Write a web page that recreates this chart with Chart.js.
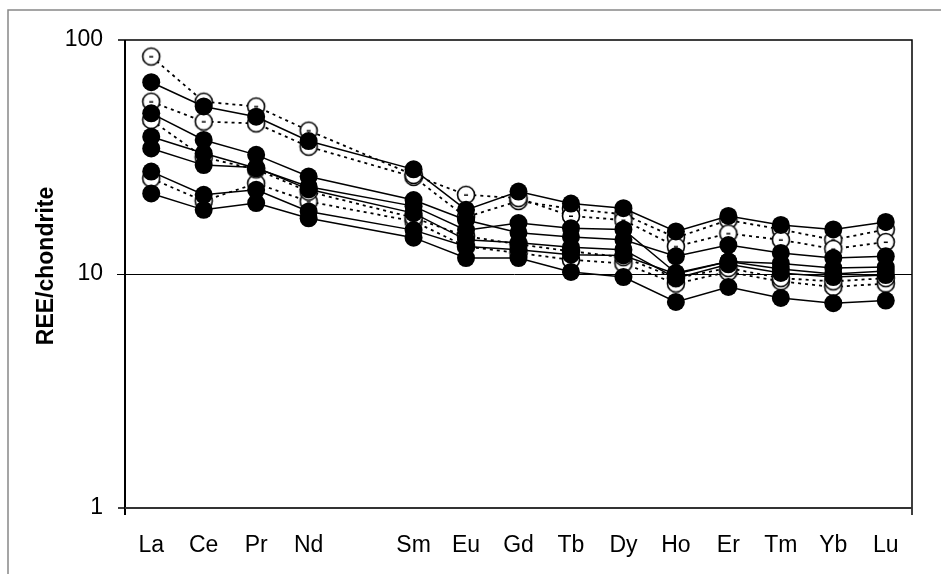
<!DOCTYPE html>
<html>
<head>
<meta charset="utf-8">
<script src="https://cdn.jsdelivr.net/npm/chart.js@4/dist/chart.umd.min.js"></script>
<style>
  html, body { margin: 0; padding: 0; background: #fff; }
  #wrap { width: 941px; height: 574px; position: relative; }
</style>
</head>
<body>
<div id="wrap"><canvas id="c" width="941" height="574"></canvas></div>
<script>
// ---- data ----
const categories = ['La', 'Ce', 'Pr', 'Nd', '', 'Sm', 'Eu', 'Gd', 'Tb', 'Dy', 'Ho', 'Er', 'Tm', 'Yb', 'Lu'];
const yTickValues = [1, 10, 100];
const yTitle = 'REE/chondrite';

// filled symbols, solid lines
const filled1 = [66, 52, 47, 37, null, 28, 18.8, 22.5, 20, 19.1, 15.2, 17.7, 16.2, 15.5, 16.7];
const filled2 = [48.6, 37.4, 32.3, 26.1, null, 20.7, 17.0, 15.0, 14.4, 14.0, 11.9, 13.3, 12.3, 11.7, 11.9];
const filled3 = [38.6, 32.8, 28.3, 23.6, null, 19.5, 15.4, 16.5, 15.7, 15.5, 10.1, 11.3, 11.1, 10.6, 10.7];
const filled4 = [34.4, 29.2, 28.5, 23.0, null, 18.2, 14.0, 13.6, 13.0, 12.7, 9.6, 11.0, 10.1, 9.7, 9.9];
const filled5 = [27.4, 21.8, 22.9, 18.5, null, 15.4, 13.1, 12.7, 12.1, 12.0, 10.0, 11.3, 10.5, 10.0, 10.3];
const filled6 = [22.1, 18.8, 20.1, 17.3, null, 14.3, 11.7, 11.7, 10.2, 9.7, 7.6, 8.8, 7.9, 7.5, 7.7];

// open symbols, dotted lines
const open1 = [85, 54.5, 52, 41, null, 26.5, 21.8, 21.1, 17.7, 17.0, 13.1, 14.9, 14.0, 12.8, 13.7];
const open2 = [54.5, 44.8, 44, 35, null, 26, 17.5, 20.5, 19.0, 18.0, 14.3, 17.0, 15.5, 14.0, 15.5];
const open3 = [45.5, 31.5, 28.0, 22.5, null, 17.4, 14.5, 13.4, 12.5, 11.8, 9.6, 10.6, 9.6, 9.3, 9.6];
const open4 = [25.6, 20.5, 24.4, 20.4, null, 16.8, 13.1, 12.3, 11.5, 11.1, 9.1, 10.2, 9.3, 8.8, 9.1];

const filledSeries = [filled1, filled2, filled3, filled4, filled5, filled6];
const openSeries = [open1, open2, open3, open4];

// ---- open marker with small center dash ----
function openMarker() {
  const s = 22;
  const cv = document.createElement('canvas');
  cv.width = s; cv.height = s;
  const g = cv.getContext('2d');
  g.beginPath();
  g.arc(s / 2, s / 2, 8.5, 0, Math.PI * 2);
  g.fillStyle = '#fff';
  g.fill();
  g.lineWidth = 1.6;
  g.strokeStyle = '#000';
  g.stroke();
  g.fillStyle = '#000';
  g.fillRect(s / 2 - 2, s / 2 - 0.5, 4, 1.5);
  return cv;
}
const openImg = openMarker();

const datasets = [];
filledSeries.forEach((d, i) => datasets.push({
  label: 'F' + (i + 1),
  data: d,
  borderColor: '#000',
  borderWidth: 1.5,
  backgroundColor: '#000',
  pointBackgroundColor: '#000',
  pointBorderColor: '#000',
  pointRadius: 9,
  pointBorderWidth: 0,
  pointStyle: 'circle',
  spanGaps: true,
  tension: 0,
  fill: false
}));
openSeries.forEach((d, i) => datasets.push({
  label: 'O' + (i + 1),
  data: d,
  borderColor: '#000',
  borderWidth: 1.8,
  borderDash: [3, 4],
  backgroundColor: '#fff',
  pointStyle: openImg,
  pointRadius: 11,
  spanGaps: true,
  tension: 0,
  fill: false
}));

const FONT = "'Liberation Sans', Arial, sans-serif";

const framePlugin = {
  id: 'frame',
  beforeDatasetsDraw(chart) {
    const ctx = chart.ctx;
    const a = chart.chartArea;
    const y = chart.scales.y;
    ctx.save();
    // outer frame (gray)
    ctx.strokeStyle = '#888';
    ctx.lineWidth = 1.5;
    ctx.beginPath();
    ctx.moveTo(8, 574);
    ctx.lineTo(8, 10);
    ctx.lineTo(941, 10);
    ctx.stroke();
    // gridline at 10
    ctx.strokeStyle = '#000';
    ctx.lineWidth = 1;
    const y10 = Math.round(y.getPixelForValue(10)) + 0.5;
    ctx.beginPath();
    ctx.moveTo(a.left - 8, y10);
    ctx.lineTo(a.right, y10);
    ctx.stroke();
    // plot border top & right
    ctx.lineWidth = 1.5;
    ctx.beginPath();
    ctx.moveTo(a.left, a.top);
    ctx.lineTo(a.right, a.top);
    ctx.lineTo(a.right, a.bottom + 7);
    ctx.stroke();
    // y axis
    ctx.lineWidth = 2;
    ctx.beginPath();
    ctx.moveTo(a.left, a.top);
    ctx.lineTo(a.left, a.bottom + 7);
    ctx.stroke();
    // y ticks
    ctx.lineWidth = 1.5;
    [1, 100].forEach(v => {
      const p = Math.round(y.getPixelForValue(v));
      ctx.beginPath();
      ctx.moveTo(a.left - 7, p);
      ctx.lineTo(a.left, p);
      ctx.stroke();
    });
    // x axis
    ctx.strokeStyle = '#333';
    ctx.lineWidth = 2;
    ctx.beginPath();
    ctx.moveTo(a.left, a.bottom);
    ctx.lineTo(a.right, a.bottom);
    ctx.stroke();
    ctx.restore();
  },
  afterDraw(chart) {
    const ctx = chart.ctx;
    ctx.save();
    ctx.translate(53, 266);
    ctx.rotate(-Math.PI / 2);
    ctx.font = "bold 23px " + FONT;
    ctx.fillStyle = '#000';
    ctx.textAlign = 'center';
    ctx.textBaseline = 'alphabetic';
    ctx.fillText(yTitle, 0, 0);
    ctx.restore();
  }
};

new Chart(document.getElementById('c'), {
  type: 'line',
  data: { labels: categories, datasets: datasets },
  options: {
    responsive: false,
    animation: false,
    events: [],
    layout: { padding: { top: 40, right: 29, left: 0, bottom: 0 } },
    plugins: { legend: { display: false }, tooltip: { enabled: false }, title: { display: false } },
    scales: {
      x: {
        type: 'category',
        offset: true,
        grid: { display: false, drawTicks: false },
        border: { display: false },
        ticks: { color: '#000', font: { family: FONT, size: 23 }, padding: 24, autoSkip: false, maxRotation: 0 },
        afterFit(s) { s.height = 66; }
      },
      y: {
        type: 'logarithmic',
        min: 1,
        max: 100,
        grid: { display: false, drawTicks: false },
        border: { display: false },
        afterBuildTicks(s) { s.ticks = yTickValues.map(v => ({ value: v })); },
        ticks: { color: '#000', font: { family: FONT, size: 23 }, padding: 22, callback: v => String(v) },
        afterFit(s) { s.width = 125; }
      }
    }
  },
  plugins: [framePlugin]
});
</script>
</body>
</html>
